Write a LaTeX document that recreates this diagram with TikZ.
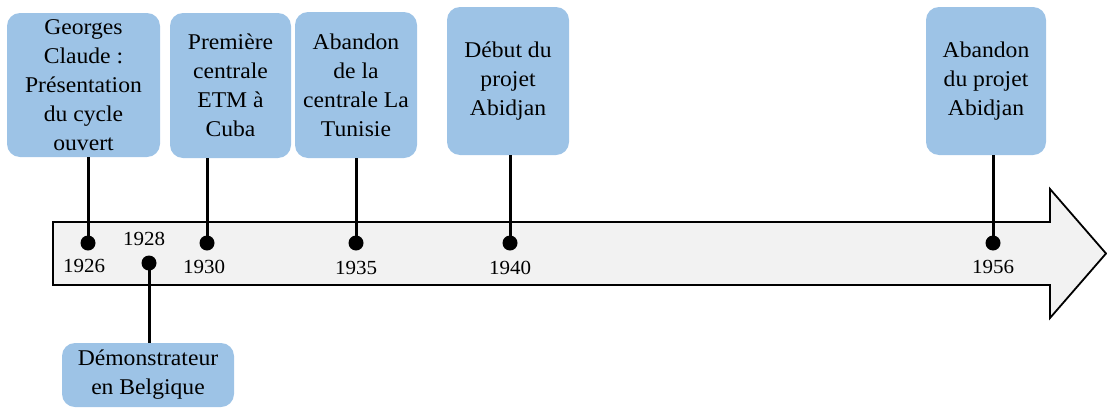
\documentclass[tikz,border=0pt]{standalone}
\usepackage{fontspec}
\setmainfont{Liberation Serif}[FakeStretch=1.05]
\definecolor{boxblue}{RGB}{157,195,230}
\definecolor{barfill}{RGB}{242,242,242}
\begin{document}
\begin{tikzpicture}[x=1pt,y=-1pt,
  evbox/.style={fill=boxblue, rounded corners=13pt, align=center, inner sep=0pt,
    font=\fontsize{22.5}{29}\selectfont, text=black},
  tick/.style={circle, fill=black, minimum size=15pt, inner sep=0pt},
  yearlbl/.style={font=\fontsize{20}{22}\selectfont, inner sep=0pt, anchor=center},
  stem/.style={line width=3pt, black}]
\useasboundingbox (0,0) rectangle (1107,407);
% timeline arrow
\draw[fill=barfill, line width=1.8pt, line join=miter]
  (53,222) -- (1050,222) -- (1050,189) -- (1106,253.5) -- (1050,318) -- (1050,285) -- (53,285) -- cycle;
% event boxes
\node[evbox, minimum width=153pt, minimum height=144pt] (g1) at (83.5,85)
  {Georges\\Claude :\\Présentation\\du cycle\\ouvert};
\node[evbox, minimum width=121pt, minimum height=145pt] (g2) at (230.5,85.5)
  {Première\\centrale\\ETM à\\Cuba};
\node[evbox, minimum width=122pt, minimum height=146pt] (g3) at (356,85)
  {Abandon\\de la\\centrale La\\Tunisie};
\node[evbox, minimum width=122pt, minimum height=148pt] (g4) at (508,81)
  {Début du\\projet\\Abidjan};
\node[evbox, minimum width=120pt, minimum height=148pt] (g5) at (986,81)
  {Abandon\\du projet\\Abidjan};
\node[evbox, minimum width=172pt, minimum height=64pt] (g6) at (148,375)
  {Démonstrateur\\en Belgique};
% dots
\coordinate (c1926) at (88,243);
\coordinate (c1928) at (149,263);
\coordinate (c1930) at (207,243);
\coordinate (c1935) at (356,243);
\coordinate (c1940) at (510,243);
\coordinate (c1956) at (993,243);
% stems
\draw[stem] (g1.south -| c1926) -- (c1926);
\draw[stem] (g2.south -| c1930) -- (c1930);
\draw[stem] (g3.south -| c1935) -- (c1935);
\draw[stem] (g4.south -| c1940) -- (c1940);
\draw[stem] (g5.south -| c1956) -- (c1956);
\draw[stem] (g6.north -| c1928) -- (c1928);
\node[tick] (d1926) at (c1926) {};
\node[tick] (d1928) at (c1928) {};
\node[tick] (d1930) at (c1930) {};
\node[tick] (d1935) at (c1935) {};
\node[tick] (d1940) at (c1940) {};
\node[tick] (d1956) at (c1956) {};
% years
\node[yearlbl] (y1926) at (84,266) {1926};
\node[yearlbl] (y1928) at (144,239) {1928};
\node[yearlbl] (y1930) at (204,267) {1930};
\node[yearlbl] (y1935) at (356,268) {1935};
\node[yearlbl] (y1940) at (510,268) {1940};
\node[yearlbl] (y1956) at (993,267) {1956};
\end{tikzpicture}
\end{document}
